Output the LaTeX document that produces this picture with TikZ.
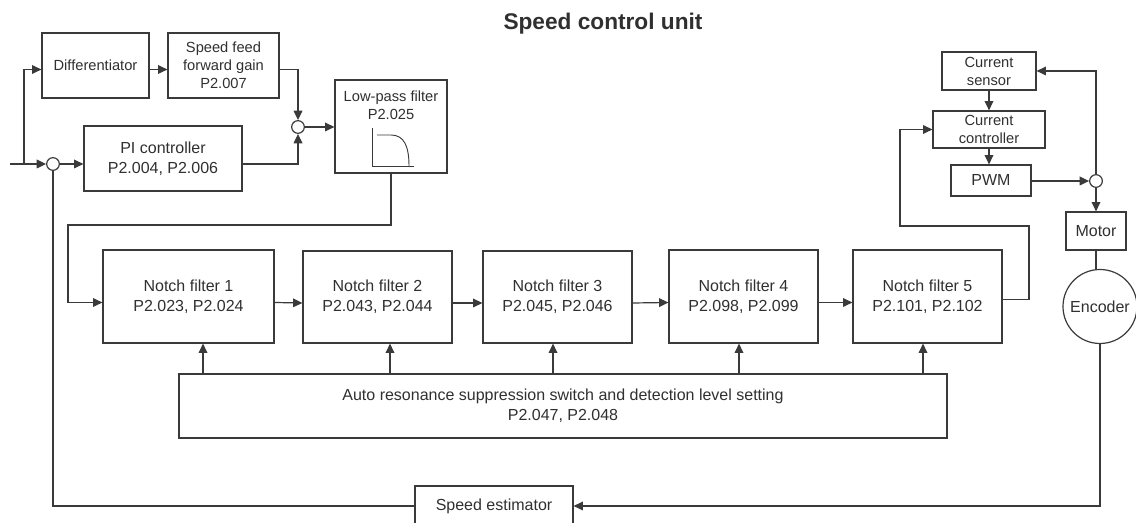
\documentclass[tikz,border=0pt]{standalone}
\usepackage{fontspec}
\setmainfont{Liberation Sans}
\usetikzlibrary{arrows.meta,calc,positioning}
\definecolor{Ink}{HTML}{3A3A3A}
\definecolor{Txt}{HTML}{303030}
\tikzset{
  blk/.style={draw=Ink,line width=0.9pt,fill=white,text=Txt,align=center,inner sep=1pt,font=\fontsize{12}{15}\selectfont},
  blks/.style={blk,font=\fontsize{11}{13.5}\selectfont},
  sumpt/.style={circle,draw=Ink,line width=0.9pt,fill=white,minimum size=9.5pt,inner sep=0pt},
  sig/.style={draw=Ink,line width=0.9pt,-{Triangle[length=7pt,width=6.5pt]}},
  wire/.style={draw=Ink,line width=0.9pt},
}

\begin{document}
\begin{tikzpicture}[x=0.75pt,y=-0.75pt]
  \useasboundingbox (0,0) rectangle (1136,523);
  \node[text=Txt,font=\fontsize{17}{20}\bfseries\selectfont] (title) at (603,24) {Speed control unit};

  % speed loop, upper left
  \coordinate (in) at (10,164);
  \coordinate (br) at (24,164);
  \node[sumpt] (sum1) at (53,164) {};
  \node[sumpt] (sum2) at (298,127) {};
  \node[blks,minimum width=80.25pt,minimum height=48.75pt] (diff) at (95.5,65.5) {Differentiator};
  \node[blks,minimum width=83.25pt,minimum height=48.75pt] (sff) at (223.5,65.5) {Speed feed\\forward gain\\P2.007};
  \node[blk,minimum width=118.5pt,minimum height=48.75pt] (pi) at (163,158.5) {PI controller\\P2.004, P2.006};
  \node[blk,minimum width=84pt,minimum height=69.75pt,
        label={[blks,draw=none,fill=none,anchor=north,yshift=-7.5pt]north:Low-pass filter\\P2.025}] (lpf) at (391,126.5) {};
  \draw[Ink,line width=0.7pt] (372,128) -- (372,166) -- (414,166);
  \draw[Ink,line width=0.7pt] (377,135) -- (391,135) .. controls (404,135) and (409,146) .. (409,166);

  \draw[wire] (in) -- (br);
  \draw[sig] (br) -- (sum1);
  \draw[sig] (br) |- ([yshift=-3pt]diff.west);
  \draw[sig] ([yshift=-3pt]diff.east) -- ([yshift=-3pt]sff.west);
  \draw[sig] ([yshift=-3pt]sff.east) -| (sum2.north);
  \draw[sig] (sum1) -- (pi.west |- sum1);
  \draw[sig] (pi.east |- sum1) -| (sum2.south);
  \draw[sig] (sum2) -- (lpf.west |- sum2);

  % notch filters
  \node[blk,minimum width=128.25pt,minimum height=69.75pt] (nf1) at (188.5,296.5) {Notch filter 1\\P2.023, P2.024};
  \node[blk,minimum width=111.75pt,minimum height=69pt] (nf2) at (377.5,297) {Notch filter 2\\P2.043, P2.044};
  \node[blk,minimum width=111.75pt,minimum height=69pt] (nf3) at (557.5,297) {Notch filter 3\\P2.045, P2.046};
  \node[blk,minimum width=111.75pt,minimum height=69.75pt] (nf4) at (743.5,296.5) {Notch filter 4\\P2.098, P2.099};
  \node[blk,minimum width=111.75pt,minimum height=69.75pt] (nf5) at (927.5,296.5) {Notch filter 5\\P2.101, P2.102};
  \node[blk,minimum width=576pt,minimum height=48pt] (auto) at (563,406) {Auto resonance suppression switch and detection level setting\\P2.047, P2.048};
  \node[blk,minimum width=118.5pt,minimum height=30pt] (est) at (494,506) {Speed estimator};

  \coordinate (c1) at (68,225);
  \draw[sig] (lpf.south) |- (c1) |- ([yshift=-4.5pt]nf1.west);
  \foreach \a/\b in {nf1/nf2,nf2/nf3,nf3/nf4,nf4/nf5}
    \draw[sig] ([yshift=-4.5pt]\a.east) -- ([yshift=-4.5pt]\b.west);
  \foreach \n/\s in {nf1/14.5,nf2/12.5,nf3/-4.5,nf4/-4.5,nf5/-4.5}
    \draw[sig] ($(auto.north -| \n.south)+(\s,0)$) -- ($(\n.south)+(\s,0)$);

  % current loop
  \node[blks,minimum width=70.5pt,minimum height=28.5pt] (sens) at (989,71) {Current\\sensor};
  \node[blks,minimum width=84pt,minimum height=27.75pt] (cc) at (989,129.5) {Current\\controller};
  \node[blk,minimum width=60pt,minimum height=23.25pt] (pwm) at (991,180.5) {PWM};
  \node[sumpt] (sum3) at (1096,181) {};
  \node[blk,minimum width=45pt,minimum height=28.5pt] (motor) at (1096,231) {Motor};
  \node[blk,circle,minimum size=55.5pt] (enc) at (1100,306.5) {Encoder};

  \coordinate (c2) at (1029,226);
  \coordinate (c3) at (900,226);
  \draw[sig] ([yshift=-2pt]nf5.east) -| (c2) -- (c3) |- (cc.west);
  \draw[sig] (sens.south) -- (cc.north);
  \draw[sig] (cc.south) -- (cc.south |- pwm.north);
  \draw[sig] (pwm.east |- sum3) -- (sum3);
  \draw[sig] (sum3.north) |- (sens.east);
  \draw[sig] (sum3.south) -- (motor.north);
  \draw[wire] (motor.south) -- (motor.south |- enc.north);
  \draw[sig] (enc.south) |- (est.east);
  \draw[wire] (est.west) -| (sum1.south);
\end{tikzpicture}
\end{document}
